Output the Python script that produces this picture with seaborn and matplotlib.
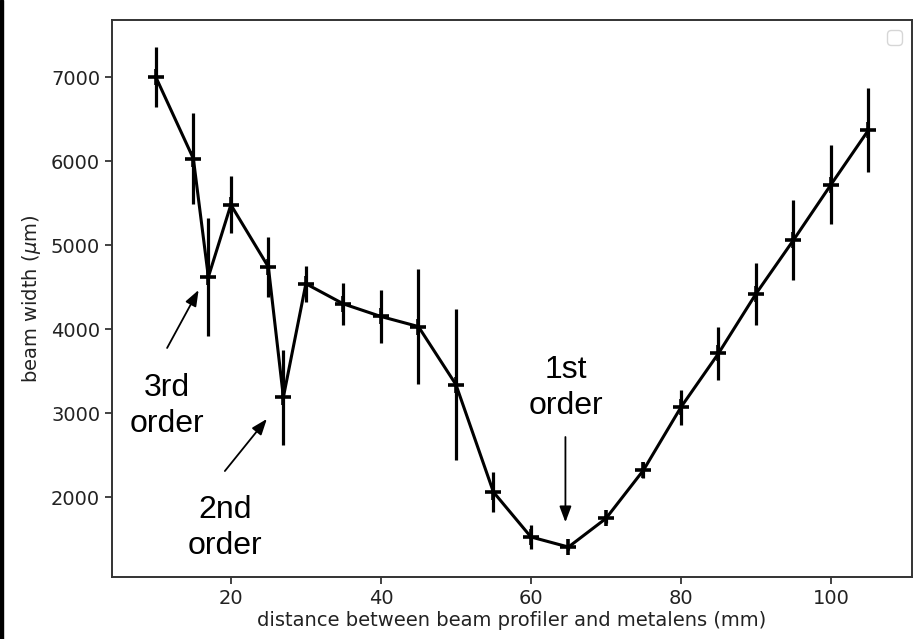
import matplotlib
matplotlib.use("Agg")
import matplotlib.pyplot as plt
import seaborn as sns
import pandas as pd
from matplotlib.patches import Rectangle

# ---- data ----
distance_mm = [10, 15, 17, 20, 25, 27, 30, 35, 40, 45, 50, 55, 60, 65, 70, 75, 80, 85, 90, 95, 100, 105]
beam_width_um = [7000, 6030, 4620, 5480, 4740, 3190, 4540, 4300, 4150, 4030, 3340, 2060, 1525, 1405,
                 1745, 2320, 3070, 3710, 4420, 5060, 5720, 6370]
beam_err_um = [360, 540, 700, 340, 355, 565, 215, 250, 310, 680, 895, 240, 140, 30,
               50, 95, 210, 320, 370, 475, 470, 495]

ann_texts = ["3rd\norder", "2nd\norder", "1st\norder"]
ann_text_xy = [(11.5, 3085), (19.2, 1630), (64.7, 3300)]
ann_arrow_tail = [(11.5, 3775), (19.2, 2310), (64.6, 2715)]
ann_arrow_head = [(15.7, 4465), (24.8, 2930), (64.6, 1700)]

df = pd.DataFrame({"d": distance_mm, "w": beam_width_um, "e": beam_err_um})

sns.set_style("ticks")
plt.rcParams["font.family"] = ["DejaVu Sans"]

fig = plt.figure(figsize=(9.2, 6.39), dpi=100)
ax = fig.add_axes([0.1217, 0.0970, 0.8696, 0.8717])

ax.errorbar(df["d"], df["w"], yerr=df["e"], fmt="none", ecolor="black", elinewidth=2.3, capsize=0, zorder=2)
sns.lineplot(data=df, x="d", y="w", color="black", linewidth=2.2, marker="+", markersize=12,
             markeredgewidth=2.6, markeredgecolor="black", ax=ax, zorder=3)

ax.set_xlim(4.15, 110.8)
ax.set_ylim(1048, 7680)
ax.set_xticks([20, 40, 60, 80, 100])
ax.set_yticks([2000, 3000, 4000, 5000, 6000, 7000])
ax.tick_params(labelsize=14, length=5, width=1.2, colors="#222222")
for s in ax.spines.values():
    s.set_color("#333333")
    s.set_linewidth(1.4)
ax.set_xlabel("distance between beam profiler and metalens (mm)", fontsize=14, color="#222222", labelpad=2)
ax.set_ylabel(r"beam width ($\mu$m)", fontsize=14, color="#222222", labelpad=6)

for t, txy, tail, head in zip(ann_texts, ann_text_xy, ann_arrow_tail, ann_arrow_head):
    ax.text(txy[0], txy[1], t, ha="center", va="center", fontsize=23, family="Liberation Sans",
            linespacing=1.25, color="black")
    ax.annotate("", xy=head, xytext=tail,
                arrowprops=dict(arrowstyle="-|>,head_length=0.8,head_width=0.3", color="black",
                                lw=1.3, mutation_scale=12, shrinkA=0, shrinkB=0))

leg = ax.legend(handles=[], loc="upper right", frameon=True, fontsize=14)

fig.add_artist(Rectangle((0, 0), 3.5 / 920, 1, transform=fig.transFigure, color="black", zorder=10))

fig.savefig("out.png", dpi=100)
